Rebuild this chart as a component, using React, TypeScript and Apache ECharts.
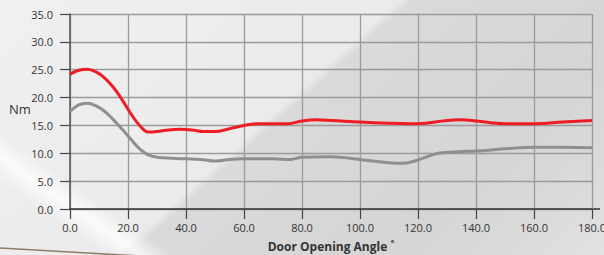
import React, { useEffect, useRef } from "react";
import * as echarts from "echarts";

const redAngles = [0, 3, 6, 9, 12, 15, 18, 21, 24, 27, 30, 34, 38, 42, 46, 50, 55, 60, 65, 70, 75, 80, 85, 90, 100, 110, 120, 130, 135, 140, 150, 160, 170, 180];
const redValues = [24.2, 24.9, 25.1, 24.6, 23.5, 21.8, 19.6, 17.1, 15.0, 13.8, 13.9, 14.2, 14.3, 14.2, 13.9, 13.9, 14.4, 15.0, 15.3, 15.3, 15.3, 15.8, 16.0, 15.9, 15.6, 15.4, 15.3, 15.9, 16.0, 15.8, 15.3, 15.3, 15.6, 15.9];

const grayAngles = [0, 3, 6, 9, 12, 15, 18, 21, 24, 27, 30, 35, 40, 45, 50, 55, 60, 70, 76, 80, 90, 100, 110, 115, 120, 127, 135, 140, 150, 160, 170, 180];
const grayValues = [17.5, 18.7, 19.0, 18.5, 17.5, 16.0, 14.3, 12.5, 10.8, 9.7, 9.3, 9.1, 9.0, 8.9, 8.6, 8.9, 9.0, 9.0, 8.9, 9.3, 9.4, 8.9, 8.3, 8.2, 8.8, 10.0, 10.3, 10.4, 10.8, 11.1, 11.1, 11.0];

const xTicks = { min: 0, max: 180, step: 20 };
const yTicks = { min: 0, max: 35, step: 5 };

const xTitle = "Door Opening Angle ˚";
const yTitle = "Nm";

export default function App() {
  const ref = useRef<HTMLDivElement>(null);
  useEffect(() => {
    if (!ref.current) return;
    const chart = echarts.init(ref.current, null, { renderer: "svg" });
    const font = "'Open Sans', 'Noto Sans', sans-serif";
    chart.setOption({
      animation: false,
      textStyle: { fontFamily: font },
      grid: { left: 70, right: 12, top: 14, bottom: 46, containLabel: false, outerBoundsMode: "none" },
      xAxis: {
        type: "value",
        min: xTicks.min,
        max: xTicks.max,
        interval: xTicks.step,
        name: xTitle,
        nameLocation: "middle",
        nameGap: 31,
        nameTextStyle: { fontSize: 12, fontWeight: "bold", color: "#333", fontFamily: font },
        axisLine: { show: true, lineStyle: { color: "#333", width: 1.5 } },
        axisTick: { show: true, inside: false, length: 10, lineStyle: { color: "#444", width: 1.2 } },
        axisLabel: { color: "#333", fontSize: 11, margin: 13, formatter: (v: number) => v.toFixed(1) },
        splitLine: { show: true, lineStyle: { color: "#9a9a9a", width: 1.3 } },
      },
      yAxis: {
        type: "value",
        min: yTicks.min,
        max: yTicks.max,
        interval: yTicks.step,
        axisLine: { show: true, lineStyle: { color: "#555", width: 1.5 } },
        axisTick: { show: true, inside: false, length: 10, lineStyle: { color: "#444", width: 1.2 } },
        axisLabel: { color: "#333", fontSize: 11, margin: 17, formatter: (v: number) => v.toFixed(1) },
        splitLine: { show: true, lineStyle: { color: "#9a9a9a", width: 1.3 } },
      },
      graphic: [
        {
          type: "text",
          left: 9,
          top: 102,
          style: { text: yTitle, fontSize: 13, fill: "#333", fontFamily: font },
        },
        {
          type: "line",
          shape: { x1: 592, y1: 209, x2: 600, y2: 209 },
          style: { stroke: "#333", lineWidth: 1.5 },
        },
        {
          type: "line",
          z: -1,
          shape: { x1: 0, y1: 248, x2: 140, y2: 256 },
          style: { stroke: "#8b7d68", lineWidth: 1.5 },
        },
      ],
      series: [
        {
          type: "line",
          data: grayAngles.map((a, i) => [a, grayValues[i]]),
          smooth: 0.4,
          symbol: "none",
          lineStyle: { color: "#8f8f8f", width: 3 },
        },
        {
          type: "line",
          data: redAngles.map((a, i) => [a, redValues[i]]),
          smooth: 0.4,
          symbol: "none",
          lineStyle: { color: "#ee1c25", width: 3 },
        },
      ],
    });
    return () => chart.dispose();
  }, []);
  return (
    <div
      ref={ref}
      style={{
        position: "absolute",
        left: 0,
        top: 0,
        width: 604,
        height: 255,
        background:
          "linear-gradient(35deg, rgba(255,255,255,0) 11%, rgba(255,255,255,0.75) 14.5%, rgba(255,255,255,0) 18%), linear-gradient(138deg, #f0f0f0 0%, #ebebeb 45%, #dadada 46.5%, #d5d5d5 75%, #dadada 88%, #e2e2e2 100%)",
      }}
    />
  );
}
